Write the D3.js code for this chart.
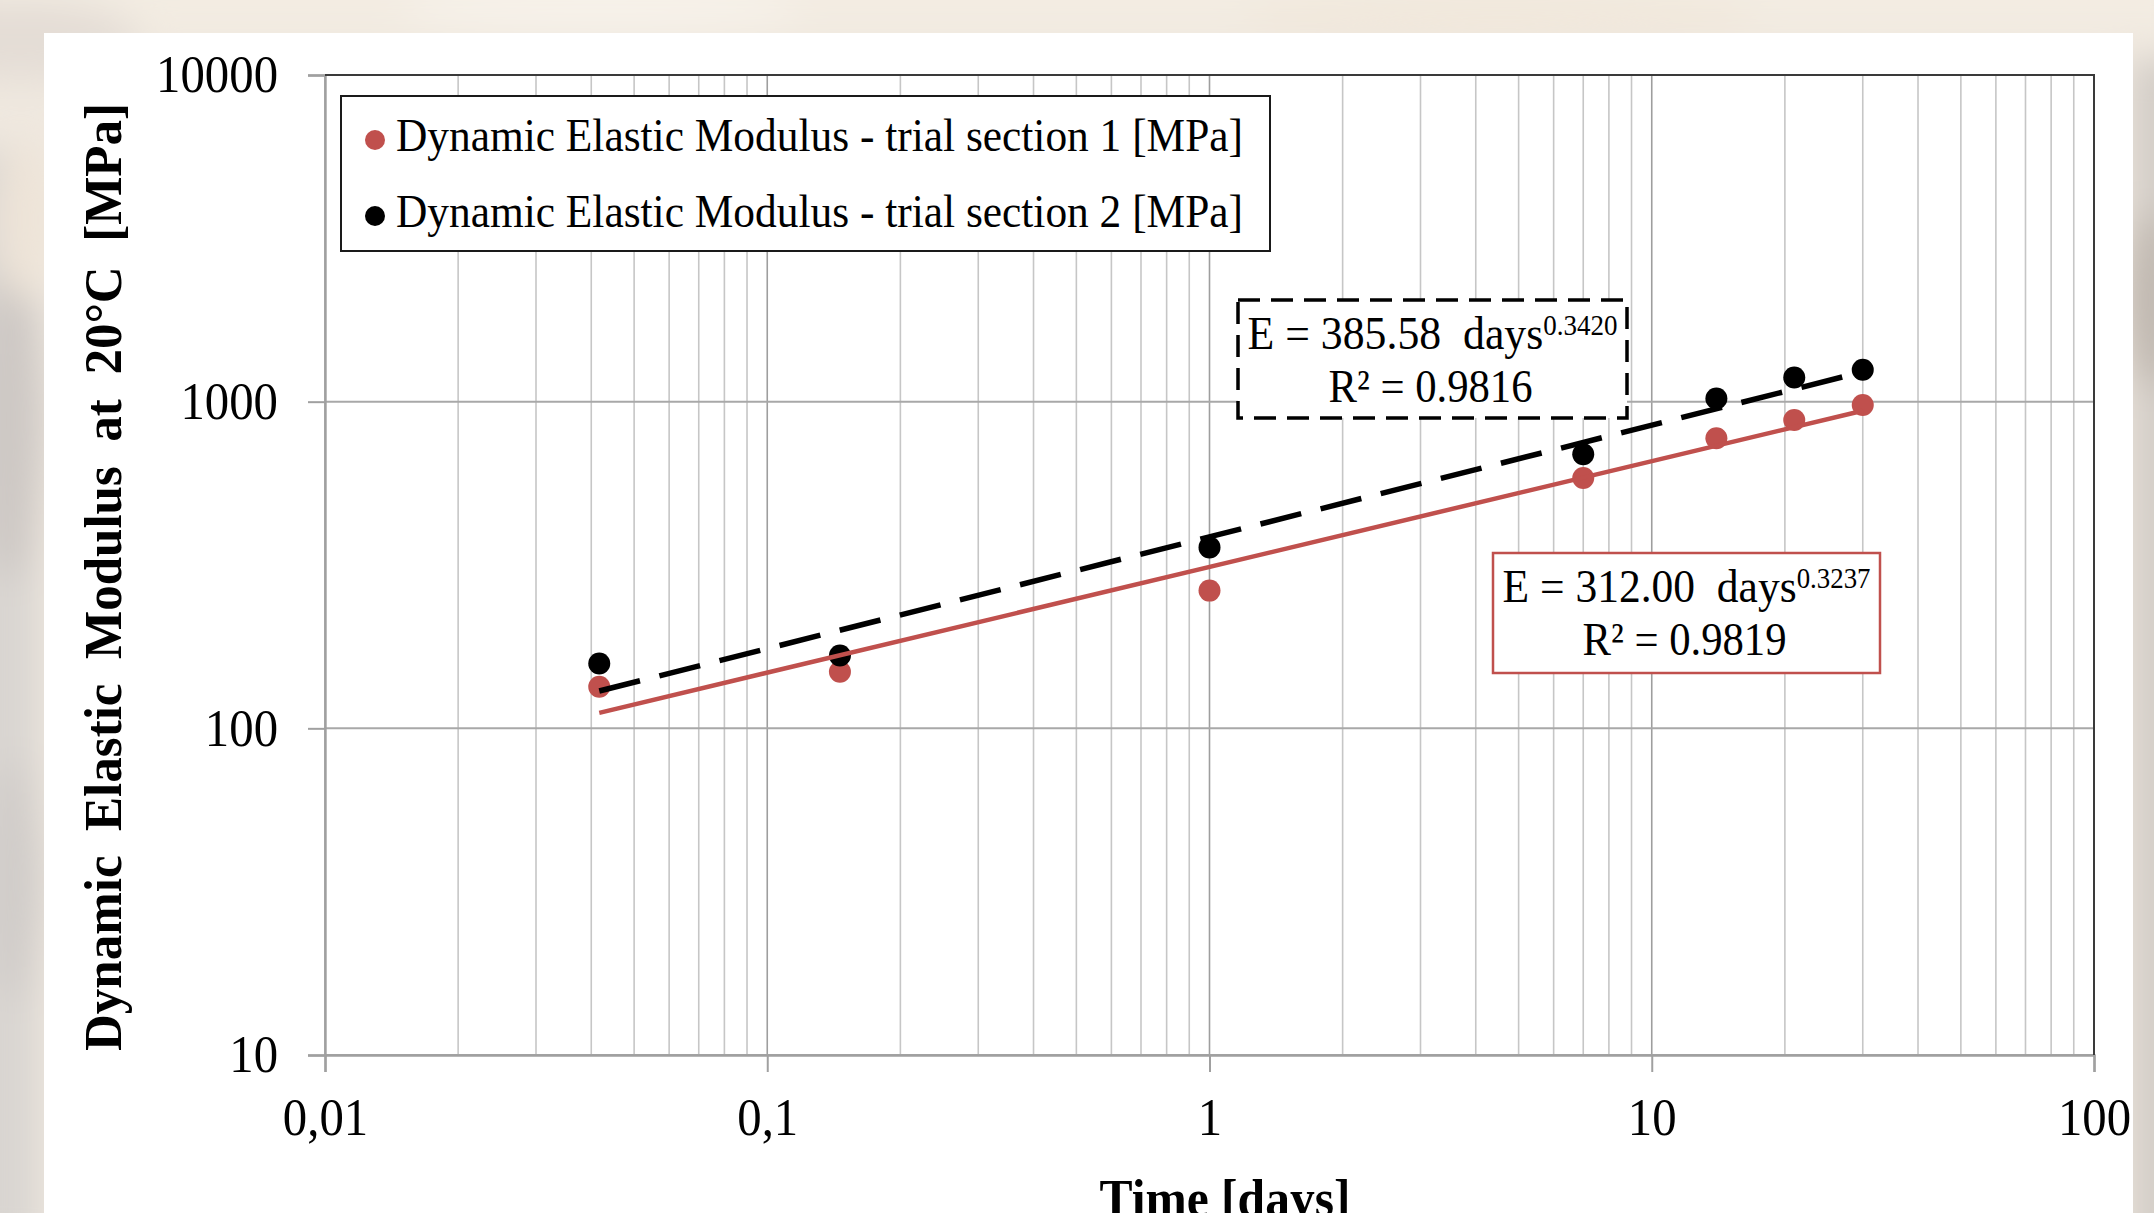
<!DOCTYPE html>
<html>
<head>
<meta charset="utf-8">
<script src="https://cdn.jsdelivr.net/npm/d3@7"></script>
<style>
  html, body { margin: 0; padding: 0; overflow: hidden; background: #ece6df; }
  svg { display: block; }
</style>
</head>
<body>
<script>
const days = [0.0417, 0.146, 1, 7, 14, 21, 30];
const modulusSection1 = [134, 149, 264, 584, 773, 879, 977];
const modulusSection2 = [158, 167, 358, 690, 1022, 1185, 1252];

const seriesNames = [
  "Dynamic Elastic Modulus - trial section 1 [MPa]",
  "Dynamic Elastic Modulus - trial section 2 [MPa]"
];
const seriesColors = ["#c0504d", "#000000"];

// power trendlines E = a * days^b
const fitCoefficients = [312.00, 385.58];
const fitExponents = [0.3237, 0.3420];
const fitR2 = [0.9819, 0.9816];

const xTickValues = [0.01, 0.1, 1, 10, 100];
const xTickLabels = ["0,01", "0,1", "1", "10", "100"];
const yTickValues = [10, 100, 1000, 10000];
const yTickLabels = ["10", "100", "1000", "10000"];

const xTitle = "Time [days]";
const yTitle = "Dynamic Elastic Modulus at 20°C [MPa]";

const W = 2154, H = 1213;
const plot = { left: 325, right: 2094, top: 75, bottom: 1055 };
const serif = "'Liberation Serif', 'Times New Roman', serif";

// squeeze text horizontally (the picture's type is a bit condensed)
function squeeze(sel, k) {
  sel.each(function() {
    const w = this.getComputedTextLength();
    d3.select(this).attr("textLength", w * k).attr("lengthAdjust", "spacingAndGlyphs");
  });
}

function fitWidth(sel, w) {
  sel.attr("textLength", w).attr("lengthAdjust", "spacingAndGlyphs");
}

function drawBackground(svg) {
  const defs = svg.append("defs");
  defs.append("filter").attr("id", "blur")
    .attr("x", "-50%").attr("y", "-50%").attr("width", "200%").attr("height", "200%")
    .append("feGaussianBlur").attr("stdDeviation", 18);

  svg.append("rect").attr("width", W).attr("height", H).attr("fill", "#efe8df");

  const blobs = svg.append("g").attr("filter", "url(#blur)");
  // soft photo-like smudges around the white sheet
  blobs.append("rect").attr("x", -40).attr("y", -40).attr("width", W + 80).attr("height", 75).attr("fill", "#f3ece2");
  blobs.append("ellipse").attr("cx", 20).attr("cy", 40).attr("rx", 120).attr("ry", 40).attr("fill", "#e4ddd6");
  blobs.append("ellipse").attr("cx", 600).attr("cy", 10).attr("rx", 200).attr("ry", 25).attr("fill", "#f7f2ea");
  blobs.append("ellipse").attr("cx", 1500).attr("cy", 15).attr("rx", 260).attr("ry", 25).attr("fill", "#f1e8dc");
  blobs.append("rect").attr("x", -40).attr("y", 150).attr("width", 80).attr("height", 1100).attr("fill", "#d9d5d1");
  blobs.append("ellipse").attr("cx", 10).attr("cy", 420).attr("rx", 35).attr("ry", 160).attr("fill", "#cdc8c4");
  blobs.append("ellipse").attr("cx", 15).attr("cy", 880).attr("rx", 30).attr("ry", 120).attr("fill", "#d0ccc9");
  blobs.append("ellipse").attr("cx", 25).attr("cy", 220).attr("rx", 30).attr("ry", 80).attr("fill", "#eee4d8");
  blobs.append("rect").attr("x", 2130).attr("y", 60).attr("width", 80).attr("height", 1200).attr("fill", "#d3cdc7");
  blobs.append("ellipse").attr("cx", 2150).attr("cy", 300).attr("rx", 25).attr("ry", 90).attr("fill", "#bdb5ad");

  svg.append("rect")
    .attr("x", 44).attr("y", 33)
    .attr("width", 2133 - 44).attr("height", H - 33)
    .attr("fill", "#ffffff");
}

function drawChart(svg, x, y) {
  const grid = svg.append("g").attr("class", "grid");

  // vertical gridlines, every 1..9 of each decade
  const majorX = new Set(xTickValues);
  grid.selectAll("line.vgrid")
    .data(x.ticks())
    .join("line")
    .attr("class", "vgrid")
    .attr("x1", d => x(d)).attr("x2", d => x(d))
    .attr("y1", plot.top).attr("y2", plot.bottom)
    .attr("stroke", d => majorX.has(d) ? "#9e9e9e" : "#c6c6c6")
    .attr("stroke-width", 1.6);

  grid.selectAll("line.hgrid")
    .data(yTickValues)
    .join("line")
    .attr("class", "hgrid")
    .attr("x1", plot.left).attr("x2", plot.right)
    .attr("y1", d => y(d)).attr("y2", d => y(d))
    .attr("stroke", "#a8a8a8")
    .attr("stroke-width", 2);

  // axes
  const xAxis = d3.axisBottom(x)
    .tickValues(xTickValues)
    .tickFormat((d, i) => xTickLabels[i])
    .tickSize(17)
    .tickPadding(25);

  const yAxis = d3.axisLeft(y)
    .tickValues(yTickValues)
    .tickFormat((d, i) => yTickLabels[i])
    .tickSize(17)
    .tickPadding(30);

  const gx = svg.append("g")
    .attr("transform", `translate(0,${plot.bottom})`)
    .call(xAxis);
  const gy = svg.append("g")
    .attr("transform", `translate(${plot.left},0)`)
    .call(yAxis);

  [gx, gy].forEach(g => {
    g.select(".domain").attr("stroke", "#a0a0a0").attr("stroke-width", 2.4);
    g.selectAll(".tick line").attr("stroke", "#a0a0a0").attr("stroke-width", 2);
    g.selectAll(".tick text")
      .attr("fill", "#000")
      .style("font-family", serif)
      .style("font-size", "53px");
  });
  squeeze(gx.selectAll(".tick text"), 0.92);
  squeeze(gy.selectAll(".tick text"), 0.92);

  // top and right frame of the plot area
  svg.append("path")
    .attr("d", `M${plot.left},${plot.top}H${plot.right}V${plot.bottom}`)
    .attr("fill", "none")
    .attr("stroke", "#3a3a3a")
    .attr("stroke-width", 2);

  // axis titles
  svg.append("text")
    .attr("transform", "translate(121,577) rotate(-90)")
    .attr("text-anchor", "middle")
    .style("font-family", serif)
    .style("font-weight", "bold")
    .style("font-size", "52px")
    .style("word-spacing", "12px")
    .text(yTitle)
    .call(fitWidth, 948);

  // the reference cuts this title at the bottom edge too
  svg.append("text")
    .attr("x", 1225).attr("y", 1216)
    .attr("text-anchor", "middle")
    .style("font-family", serif)
    .style("font-weight", "bold")
    .style("font-size", "52px")
    .text(xTitle)
    .call(fitWidth, 251);
}

function drawSeries(svg, x, y) {
  const series = [modulusSection1, modulusSection2].map((vals, s) => ({
    name: seriesNames[s],
    color: seriesColors[s],
    points: days.map((d, i) => ({ t: d, e: vals[i] })),
    a: fitCoefficients[s],
    b: fitExponents[s]
  }));

  // markers first, trendlines run over them
  const marks = svg.append("g").attr("class", "markers");
  series.forEach(s => {
    marks.selectAll(null)
      .data(s.points)
      .join("circle")
      .attr("cx", d => x(d.t))
      .attr("cy", d => y(d.e))
      .attr("r", 11)
      .attr("fill", s.color);
  });

  const line = d3.line().x(d => x(d.t)).y(d => y(d.e));
  const span = d3.extent(days);

  series.forEach((s, i) => {
    const fit = span.map(t => ({ t: t, e: s.a * Math.pow(t, s.b) }));
    svg.append("path")
      .datum(fit)
      .attr("d", line)
      .attr("fill", "none")
      .attr("stroke", s.color)
      .attr("stroke-width", i === 0 ? 4.5 : 5.5)
      .attr("stroke-dasharray", i === 0 ? null : "42,20");
  });

  return series;
}

function drawLegend(svg) {
  const lg = svg.append("g").attr("class", "legend");
  lg.append("rect")
    .attr("x", 341).attr("y", 96)
    .attr("width", 929).attr("height", 155)
    .attr("fill", "#fff")
    .attr("stroke", "#1a1a1a")
    .attr("stroke-width", 2);

  const rows = lg.selectAll("g.row")
    .data(seriesNames)
    .join("g")
    .attr("class", "row")
    .attr("transform", (d, i) => `translate(0,${i * 76})`);

  rows.append("circle")
    .attr("cx", 375).attr("cy", 140)
    .attr("r", 10)
    .attr("fill", (d, i) => seriesColors[i]);

  rows.append("text")
    .attr("x", 396).attr("y", 151)
    .style("font-family", serif)
    .style("font-size", "46px")
    .text(d => d)
    .call(fitWidth, 847);
}

function drawEquation(svg, box, idx, width) {
  const g = svg.append("g");
  g.append("rect")
    .attr("x", box.x).attr("y", box.y)
    .attr("width", box.w).attr("height", box.h)
    .attr("fill", "#fff")
    .attr("stroke", box.stroke)
    .attr("stroke-width", box.dash ? 3.5 : 2.5)
    .attr("stroke-dasharray", box.dash);

  const a = fitCoefficients[idx].toFixed(2);
  const b = fitExponents[idx].toFixed(4);
  const cx = box.x + box.w / 2;

  // one text element, exponent as a raised tspan
  const eq = g.append("text")
    .attr("x", cx).attr("y", box.y + 49)
    .attr("text-anchor", "middle")
    .style("font-family", serif).style("font-size", "47px")
    .style("white-space", "pre");
  eq.append("tspan").text(`E = ${a}  days`);
  eq.append("tspan")
    .attr("dy", -14)
    .style("font-size", "29px")
    .text(b);
  eq.call(fitWidth, width);

  g.append("text")
    .attr("x", cx - 2).attr("y", box.y + 102)
    .attr("text-anchor", "middle")
    .style("font-family", serif).style("font-size", "47px")
    .text(`R\u00b2 = ${fitR2[idx].toFixed(4)}`)
    .call(fitWidth, 204);
}

function main() {
  const svg = d3.select("body").append("svg")
    .attr("width", W).attr("height", H);

  drawBackground(svg);

  const x = d3.scaleLog().domain([0.01, 100]).range([plot.left, plot.right]);
  const y = d3.scaleLog().domain([10, 10000]).range([plot.bottom, plot.top]);

  drawChart(svg, x, y);
  drawSeries(svg, x, y);
  drawLegend(svg);

  drawEquation(svg, { x: 1238, y: 300, w: 389, h: 118, stroke: "#000", dash: "22,11" }, 1, 370);
  drawEquation(svg, { x: 1493, y: 553, w: 387, h: 120, stroke: "#c0504d", dash: null }, 0, 368);
}

main();
</script>
</body>
</html>
